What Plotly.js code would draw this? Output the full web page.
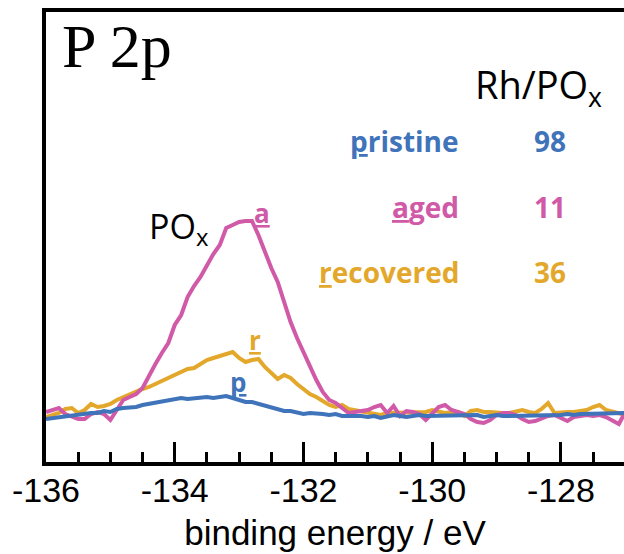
<!DOCTYPE html>
<html>
<head>
<meta charset="utf-8">
<script src="https://cdn.plot.ly/plotly-3.0.1.min.js"></script>
<style>html,body{margin:0;padding:0;background:#fff;}#chart{width:624px;height:554px;}</style>
</head>
<body>
<div id="chart"></div>
<script>
// binding energy (eV), 0.1 eV steps
const energy = [-136.0,-135.9,-135.8,-135.7,-135.6,-135.5,-135.4,-135.3,-135.2,-135.1,
-135.0,-134.9,-134.8,-134.7,-134.6,-134.5,-134.4,-134.3,-134.2,-134.1,
-134.0,-133.9,-133.8,-133.7,-133.6,-133.5,-133.4,-133.3,-133.2,-133.1,
-133.0,-132.9,-132.8,-132.7,-132.6,-132.5,-132.4,-132.3,-132.2,-132.1,
-132.0,-131.9,-131.8,-131.7,-131.6,-131.5,-131.4,-131.3,-131.2,-131.1,
-131.0,-130.9,-130.8,-130.7,-130.6,-130.5,-130.4,-130.3,-130.2,-130.1,
-130.0,-129.9,-129.8,-129.7,-129.6,-129.5,-129.4,-129.3,-129.2,-129.1,
-129.0,-128.9,-128.8,-128.7,-128.6,-128.5,-128.4,-128.3,-128.2,-128.1,
-128.0,-127.9,-127.8,-127.7,-127.6,-127.5,-127.4,-127.3,-127.2,-127.1,-127.0];

// intensity (arb. units)
const aged = [0,2,4,-2,-4,-7,-7,-2,0,-2,
-8,2,12,15,18,24,37,48,59,69,
87,97,115,126,135,147,158,167,184,187,
190,191,191,177,160,144,130,109,90,74,
60,45,32,20,12,9,4,-1,0,1,
2,5,7,-1,6,-4,1,0,-2,-8,
-1,5,7,2,0,-2,-7,-10,-11,-8,
-3,-1,-1,-3,-7,-10,-9,-6,-4,-3,
-6,-9,-5,-4,-3,-4,-3,-5,-9,-12,0];

const recovered = [-5,-3,-1,3,4,-1,2,8,5,6,
8,12,15,17,20,23,25,28,32,34,
38,41,43,44,48,52,54,56,59,60,
54,50,52,53,45,39,33,37,34,28,
23,18,15,11,7,5,7,3,2,1,
0,-2,-3,-1,-1,0,0,0,-1,0,
2,1,-1,0,0,-4,1,2,0,0,
-1,-1,-1,0,2,0,-1,3,9,-1,
0,0,0,1,2,5,7,2,0,-2,-3];

const pristine = [-7,-6,-5,-4,-3,-3,-2,-1,-1,1,
0,3,4,4,5,7,8,9,11,12,
12,14,13,14,14,15,14,15,16,14,
12,10,10,8,6,4,3,1,1,0,
-2,-1,-1,-2,-3,-2,-4,-4,-3,-4,
-5,-4,-6,-5,-3,-4,-5,-4,-3,-4,
-4,-3,-3,-4,-3,-3,-4,-3,-5,-4,
-3,-4,-4,-3,-4,-3,-3,-4,-3,-3,
-3,-2,-3,-2,-2,-2,-1,-1,-1,-1,-1];

const sampleNames = ["pristine", "aged", "recovered"];
const sampleKeys = ["p", "a", "r"];
const ratios = ["98", "11", "36"];
const colors = ["#3f73ba", "#d05aa7", "#e3a82b"];
const seriesData = [pristine, aged, recovered];

const traces = [2, 1, 0].map(i => ({
  x: energy, y: seriesData[i], type: "scatter", mode: "lines",
  name: sampleNames[i], line: {color: colors[i], width: 4}, hoverinfo: "skip"
}));

const textFont = "Open Sans, sans-serif";
const ann = [];
ann.push({xref: "paper", yref: "paper", x: 0.025, y: 0.925, xanchor: "left", yanchor: "middle",
  text: "P 2p", showarrow: false, font: {family: "Liberation Serif, serif", size: 62, color: "#000"}});
ann.push({xref: "paper", yref: "paper", x: 0.738, y: 0.834, xanchor: "left", yanchor: "middle",
  text: "Rh/PO<sub>x</sub>", showarrow: false, font: {family: textFont, size: 38, color: "#000"}});
ann.push({xref: "paper", yref: "paper", x: 0.175, y: 0.52, xanchor: "left", yanchor: "middle",
  text: "PO<sub>x</sub>", showarrow: false, font: {family: textFont, size: 34, color: "#000"}});
const rowY = [0.713, 0.567, 0.422];
const keyPos = [[0.332, 0.178], [0.374, 0.553], [0.362, 0.271]];
for (let i = 0; i < 3; i++) {
  const nm = sampleNames[i];
  ann.push({xref: "paper", yref: "paper", x: 0.718, y: rowY[i], xanchor: "right", yanchor: "middle",
    text: "<b><u>" + nm[0] + "</u>" + nm.slice(1) + "</b>", showarrow: false,
    font: {family: textFont, size: 28, color: colors[i]}});
  ann.push({xref: "paper", yref: "paper", x: 0.872, y: rowY[i], xanchor: "center", yanchor: "middle",
    text: "<b>" + ratios[i] + "</b>", showarrow: false,
    font: {family: textFont, size: 28, color: colors[i]}});
  ann.push({xref: "paper", yref: "paper", x: keyPos[i][0], y: keyPos[i][1], xanchor: "center", yanchor: "middle",
    text: "<b><u>" + sampleKeys[i] + "</u></b>", showarrow: false,
    font: {family: textFont, size: 26, color: colors[i]}});
}

const layout = {
  width: 624, height: 554,
  margin: {l: 46, r: 0, t: 12, b: 92},
  paper_bgcolor: "#fff", plot_bgcolor: "#fff",
  showlegend: false,
  xaxis: {
    range: [-136, -127.02], showgrid: false, zeroline: false,
    showline: true, linewidth: 4, linecolor: "#000", mirror: true,
    ticks: "inside", ticklen: 20, tickwidth: 3, tickcolor: "#000",
    tickvals: [-136, -134, -132, -130, -128],
    ticktext: ["-136", "-134", "-132", "-130", "-128"],
    minor: {dtick: 0.5, ticks: "inside", ticklen: 10, tickwidth: 3, tickcolor: "#000", showgrid: false},
    ticklabelstandoff: -5,
    tickfont: {family: "Liberation Sans, Arial, sans-serif", size: 34, color: "#000"},
    title: {text: "binding energy / eV", standoff: 14,
      font: {family: "Liberation Sans, Arial, sans-serif", size: 35, color: "#000"}}
  },
  yaxis: {
    range: [-50, 400], showgrid: false, zeroline: false, showticklabels: false,
    showline: true, linewidth: 4, linecolor: "#000", ticks: ""
  },
  annotations: ann
};

Plotly.newPlot("chart", traces, layout, {staticPlot: true, displayModeBar: false});
</script>
</body>
</html>
